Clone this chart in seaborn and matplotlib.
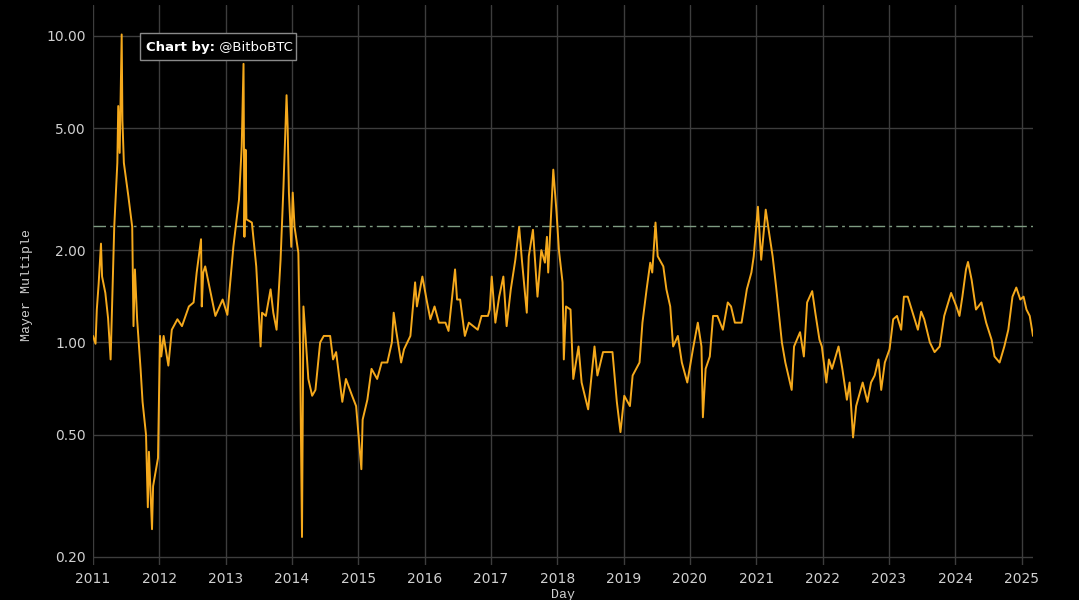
import pandas as pd
import seaborn as sns
import matplotlib.pyplot as plt
import matplotlib.dates as mdates
from matplotlib.patches import Rectangle
from matplotlib.ticker import FixedLocator, FixedFormatter

# Mayer Multiple
dates = [
    "2011-01-01", "2011-01-15", "2011-01-22", "2011-02-01", "2011-02-14", "2011-02-20",
    "2011-03-10", "2011-03-25", "2011-04-08", "2011-04-20", "2011-04-28", "2011-05-15",
    "2011-05-20", "2011-05-28", "2011-06-08", "2011-06-12", "2011-06-20", "2011-07-15",
    "2011-08-05", "2011-08-12", "2011-08-20", "2011-09-01", "2011-09-20", "2011-10-01",
    "2011-10-20", "2011-10-30", "2011-11-05", "2011-11-22", "2011-11-28", "2011-12-25",
    "2012-01-05", "2012-01-12", "2012-01-25", "2012-02-20", "2012-03-10", "2012-04-10",
    "2012-05-05", "2012-06-12", "2012-07-08", "2012-07-25", "2012-08-18", "2012-08-22",
    "2012-08-30", "2012-09-10", "2012-10-05", "2012-11-05", "2012-12-15", "2013-01-10",
    "2013-02-12", "2013-03-15", "2013-03-30", "2013-04-09", "2013-04-14", "2013-04-20",
    "2013-04-25", "2013-05-25", "2013-06-18", "2013-07-01", "2013-07-12", "2013-07-20",
    "2013-08-10", "2013-09-05", "2013-09-20", "2013-10-08", "2013-10-30", "2013-11-15",
    "2013-12-02", "2013-12-08", "2013-12-15", "2013-12-28", "2014-01-05", "2014-01-15",
    "2014-02-05", "2014-02-15", "2014-02-25", "2014-03-05", "2014-03-15", "2014-04-01",
    "2014-04-22", "2014-05-10", "2014-06-05", "2014-06-25", "2014-07-30", "2014-08-15",
    "2014-09-01", "2014-10-05", "2014-10-25", "2014-11-28", "2014-12-20", "2015-01-18",
    "2015-01-25", "2015-02-20", "2015-03-15", "2015-04-15", "2015-05-10", "2015-06-10",
    "2015-07-05", "2015-07-15", "2015-07-28", "2015-08-25", "2015-09-10", "2015-10-15",
    "2015-11-10", "2015-11-20", "2015-12-20", "2016-01-15", "2016-02-02", "2016-02-25",
    "2016-03-20", "2016-04-25", "2016-05-12", "2016-06-17", "2016-06-28", "2016-07-15",
    "2016-08-10", "2016-09-01", "2016-10-20", "2016-11-10", "2016-12-15", "2016-12-25",
    "2017-01-05", "2017-01-25", "2017-02-15", "2017-03-10", "2017-03-28", "2017-04-20",
    "2017-05-15", "2017-06-05", "2017-06-20", "2017-07-17", "2017-07-28", "2017-08-20",
    "2017-09-14", "2017-10-05", "2017-10-25", "2017-11-05", "2017-11-12", "2017-12-10",
    "2017-12-28", "2018-01-10", "2018-01-30", "2018-02-06", "2018-02-18", "2018-03-15",
    "2018-03-30", "2018-04-28", "2018-05-15", "2018-06-20", "2018-07-25", "2018-08-10",
    "2018-09-10", "2018-11-01", "2018-11-25", "2018-12-15", "2019-01-05", "2019-02-05",
    "2019-02-20", "2019-03-30", "2019-04-15", "2019-05-08", "2019-05-28", "2019-06-08",
    "2019-06-26", "2019-07-08", "2019-08-08", "2019-08-25", "2019-09-15", "2019-10-01",
    "2019-10-27", "2019-11-18", "2019-12-18", "2020-01-18", "2020-02-14", "2020-03-05",
    "2020-03-13", "2020-03-28", "2020-04-20", "2020-05-08", "2020-06-01", "2020-07-01",
    "2020-07-28", "2020-08-15", "2020-09-05", "2020-10-12", "2020-11-10", "2020-12-05",
    "2020-12-18", "2021-01-10", "2021-01-28", "2021-02-22", "2021-03-10", "2021-04-01",
    "2021-04-20", "2021-05-22", "2021-06-10", "2021-07-15", "2021-07-28", "2021-08-30",
    "2021-09-20", "2021-10-08", "2021-11-05", "2021-11-22", "2021-12-15", "2021-12-28",
    "2022-01-22", "2022-02-05", "2022-02-22", "2022-03-30", "2022-04-20", "2022-05-15",
    "2022-05-30", "2022-06-18", "2022-07-05", "2022-08-10", "2022-09-05", "2022-09-25",
    "2022-10-15", "2022-11-05", "2022-11-20", "2022-12-10", "2023-01-05", "2023-01-25",
    "2023-02-15", "2023-03-10", "2023-03-25", "2023-04-15", "2023-05-12", "2023-06-10",
    "2023-06-28", "2023-07-15", "2023-08-15", "2023-09-10", "2023-10-08", "2023-11-02",
    "2023-12-10", "2024-01-08", "2024-01-25", "2024-02-10", "2024-03-01", "2024-03-12",
    "2024-04-01", "2024-04-25", "2024-05-25", "2024-06-20", "2024-07-20", "2024-08-05",
    "2024-09-02", "2024-09-28", "2024-10-20", "2024-11-12", "2024-12-03", "2024-12-25",
    "2025-01-12", "2025-01-28", "2025-02-15", "2025-03-05",
]
mayer = [
    1.05, 0.99, 1.28, 1.55, 2.10, 1.64,
    1.45, 1.20, 0.88, 1.60, 2.38, 3.85,
    5.90, 4.15, 10.1, 5.30, 3.85, 2.99,
    2.38, 1.13, 1.73, 1.19, 0.82, 0.64,
    0.50, 0.29, 0.44, 0.246, 0.34, 0.42,
    1.05, 0.90, 1.05, 0.84, 1.10, 1.19,
    1.13, 1.31, 1.35, 1.69, 2.17, 1.31,
    1.69, 1.77, 1.50, 1.22, 1.38, 1.23,
    2.05, 2.92, 4.35, 8.10, 2.21, 4.25,
    2.52, 2.46, 1.77, 1.28, 0.97, 1.25,
    1.22, 1.49, 1.25, 1.10, 1.86, 3.22,
    6.40, 5.05, 3.08, 2.05, 3.08, 2.38,
    1.96, 0.88, 0.232, 1.31, 1.08, 0.76,
    0.67, 0.70, 1.00, 1.05, 1.05, 0.88,
    0.93, 0.64, 0.76, 0.67, 0.62, 0.386,
    0.56, 0.65, 0.82, 0.76, 0.86, 0.86,
    1.00, 1.25, 1.10, 0.86, 0.95, 1.05,
    1.57, 1.31, 1.64, 1.35, 1.19, 1.31,
    1.16, 1.16, 1.09, 1.73, 1.38, 1.38,
    1.05, 1.16, 1.10, 1.22, 1.22, 1.28,
    1.64, 1.16, 1.41, 1.64, 1.13, 1.49,
    1.86, 2.38, 1.86, 1.25, 1.91, 2.33,
    1.41, 2.00, 1.82, 2.21, 1.69, 3.66,
    2.65, 2.00, 1.57, 0.88, 1.31, 1.28,
    0.76, 0.97, 0.74, 0.605, 0.97, 0.78,
    0.93, 0.93, 0.64, 0.51, 0.67, 0.62,
    0.78, 0.86, 1.16, 1.49, 1.82, 1.69,
    2.46, 1.91, 1.77, 1.49, 1.31, 0.97,
    1.05, 0.86, 0.74, 0.95, 1.16, 0.97,
    0.57, 0.82, 0.90, 1.22, 1.22, 1.10,
    1.35, 1.31, 1.16, 1.16, 1.49, 1.69,
    1.91, 2.77, 1.86, 2.71, 2.33, 1.91,
    1.52, 1.00, 0.86, 0.70, 0.97, 1.08,
    0.90, 1.35, 1.47, 1.25, 1.02, 0.97,
    0.74, 0.88, 0.82, 0.97, 0.82, 0.65,
    0.74, 0.49, 0.62, 0.74, 0.64, 0.74,
    0.78, 0.88, 0.70, 0.86, 0.95, 1.19,
    1.22, 1.10, 1.41, 1.41, 1.25, 1.10,
    1.26, 1.19, 1.00, 0.93, 0.97, 1.22,
    1.45, 1.31, 1.22, 1.41, 1.73, 1.83,
    1.60, 1.28, 1.35, 1.16, 1.02, 0.90,
    0.86, 0.97, 1.10, 1.41, 1.51, 1.38,
    1.41, 1.28, 1.22, 1.05,
]
threshold = 2.4
ytick_vals = [0.2, 0.5, 1, 2, 5, 10]
ytick_labels = ["0.20", "0.50", "1.00", "2.00", "5.00", "10.00"]

df = pd.DataFrame({"Day": pd.to_datetime(dates), "Mayer Multiple": mayer})

sns.set_style("dark", {
    "axes.facecolor": "black",
    "figure.facecolor": "black",
    "grid.color": "#3d3d3d",
    "axes.edgecolor": "black",
})
plt.rcParams["font.family"] = ["DejaVu Sans"]

fig = plt.figure(figsize=(10.79, 6.0), dpi=100)
ax = fig.add_axes([93 / 1079, 35 / 600, 940 / 1079, 560 / 600])

sns.lineplot(data=df, x="Day", y="Mayer Multiple", ax=ax, color="#f5a91c", linewidth=1.4)
ax.axhline(threshold, color="#7f9c82", linewidth=1, linestyle=(0, (9, 3, 2, 3)), zorder=1)

ax.set_yscale("log")
ax.set_ylim(0.188, 12.6)
ax.set_xlim(pd.Timestamp("2011-01-01"), pd.Timestamp("2025-03-05"))
ax.yaxis.set_major_locator(FixedLocator(ytick_vals))
ax.yaxis.set_major_formatter(FixedFormatter(ytick_labels))
ax.yaxis.set_minor_locator(FixedLocator([]))
ax.xaxis.set_major_locator(mdates.YearLocator())
ax.xaxis.set_major_formatter(mdates.DateFormatter("%Y"))

ax.grid(True, color="#3d3d3d", linewidth=1)
ax.tick_params(colors="#d0d0d0", labelsize=10, length=0, pad=5)
for s in ax.spines.values():
    s.set_visible(False)

ax.set_xlabel("Day", family="Liberation Mono", fontsize=9.5, color="#d0d0d0", labelpad=2)
ax.set_ylabel("Mayer Multiple", family="Liberation Mono", fontsize=9.5, color="#d0d0d0", labelpad=10)

# "Chart by" badge, drawn on the axes so it sits above the line
ax.add_patch(Rectangle((140 / 1079, 1 - 60 / 600), 156 / 1079, 27 / 600,
                       transform=fig.transFigure, facecolor="black",
                       edgecolor="#8a8a8a", linewidth=1, zorder=5, clip_on=False))
t1 = ax.text(146 / 1079, 1 - 47 / 600, "Chart by:", transform=fig.transFigure,
             color="white", fontsize=9.5, fontweight="bold", va="center", ha="left", zorder=6)
ax.annotate(" @BitboBTC", xy=(1, 0.5), xycoords=t1, color="white", fontsize=9.5,
            va="center", ha="left", zorder=6, annotation_clip=False)

fig.savefig("out.png", dpi=100, facecolor="black")
